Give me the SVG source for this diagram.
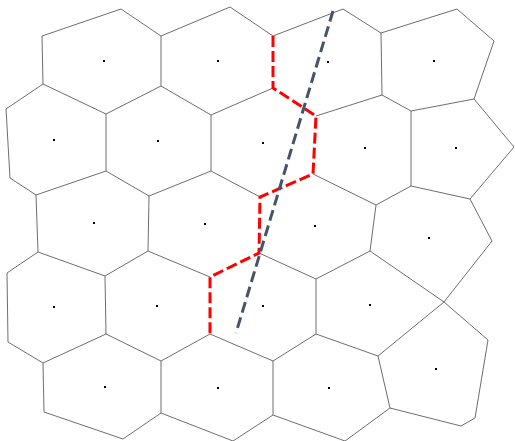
<svg xmlns="http://www.w3.org/2000/svg" width="515" height="441" viewBox="0 0 515 441">
<style>
.e{fill:none;stroke:#6e6e6e;stroke-width:1;stroke-linejoin:round}
.s{fill:#000}
.red{fill:none;stroke:#ff0000;stroke-width:3;stroke-dasharray:11 4}
.blue{fill:none;stroke:#44546a;stroke-width:3;stroke-dasharray:11 5}
</style>
<rect width="515" height="441" fill="#ffffff"/>
<g id="voronoi-edges" class="e">
<path d="M42,36 L121,9 L161,36 L230,7 L273,36 L343,9 L381,33 L457,9 L494,41 L474,99"/>
<path d="M42,36 L43,84 M161,36 L161,86 M381,33 L382,95"/>
<path d="M6,109 L43,84 L106,114 L161,86 L211,115 L273,88"/>
<path d="M316,116 L382,95 L411,111 L474,99 L514,147 L470,199"/>
<path d="M6,109 L10,178 M106,114 L106,171 M211,115 L211,171 M411,111 L411,186"/>
<path d="M10,178 L36,195 L106,171 L149,196 L211,171 L260,197"/>
<path d="M313,174 L376,205 L411,186 L470,199 L492,241 L444,302"/>
<path d="M36,195 L38,252 M149,196 L148,251 M376,205 L370,251"/>
<path d="M7,273 L38,252 L105,276 L148,251 L210,277"/>
<path d="M259,253 L316,279 L370,251 L444,302 L488,340 L475,418 L461,426 L390,408"/>
<path d="M7,273 L8,342 M105,276 L106,334 M316,279 L316,334 M444,302 L378,356"/>
<path d="M8,342 L43,363 L106,334 L161,361 L210,334 L273,361 L316,334 L378,356"/>
<path d="M43,363 L44,412 M161,361 L161,413 M273,361 L273,415 M378,356 L390,408"/>
<path d="M44,412 L123,439 L161,413 L233,441 L273,415 L345,441 L390,408"/>
</g>
<g id="seeds" class="s">
<rect x="103" y="60" width="2" height="2"/><rect x="217" y="60" width="2" height="2"/><rect x="327" y="61" width="2" height="2"/><rect x="433" y="60" width="2" height="2"/>
<rect x="53" y="139" width="2" height="2"/><rect x="157" y="140" width="2" height="2"/><rect x="262" y="142" width="2" height="2"/><rect x="364" y="147" width="2" height="2"/><rect x="455" y="147" width="2" height="2"/>
<rect x="93" y="222" width="2" height="2"/><rect x="204" y="223" width="2" height="2"/><rect x="314" y="225" width="2" height="2"/><rect x="428" y="237" width="2" height="2"/>
<rect x="53" y="306" width="2" height="2"/><rect x="156" y="305" width="2" height="2"/><rect x="262" y="305" width="2" height="2"/><rect x="369" y="304" width="2" height="2"/>
<rect x="104" y="386" width="2" height="2"/><rect x="217" y="387" width="2" height="2"/><rect x="328" y="387" width="2" height="2"/><rect x="435" y="368" width="2" height="2"/>
</g>
<g id="red-path">
<path class="red" d="M273,36 L273,88 L316,116 L313,174 L260,197 L259,253 L210,277 L210,334"/>
</g>
<g id="blue-line">
<path class="blue" d="M333,11 L236,333"/>
</g>
</svg>
